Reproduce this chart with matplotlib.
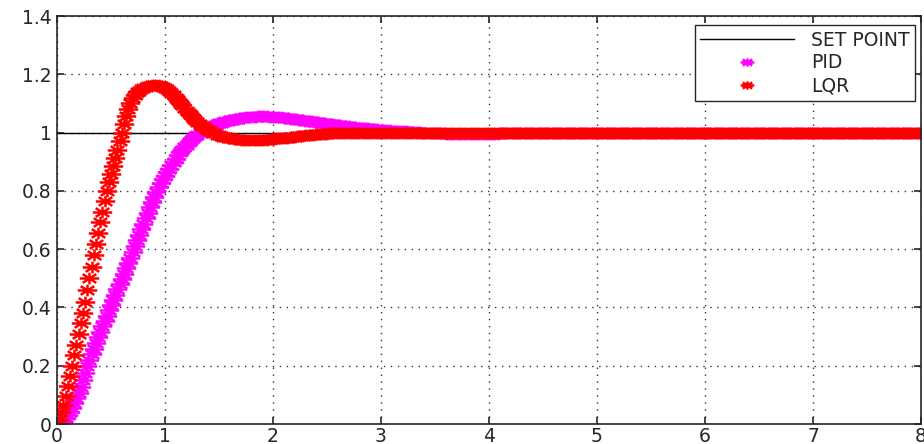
import numpy as np
import matplotlib
matplotlib.use('Agg')
import matplotlib.pyplot as plt
from matplotlib.path import Path

# time step of the sampled responses (s)
dt = 0.02

lqr = [0.000, 0.015, 0.040, 0.065, 0.095, 0.130, 0.165, 0.200, 0.236, 0.272,
       0.308, 0.345, 0.382, 0.420, 0.460, 0.500, 0.540, 0.580, 0.618, 0.655,
       0.692, 0.728, 0.764, 0.800, 0.830, 0.858, 0.885, 0.912, 0.940, 0.970,
       1.000, 1.030, 1.058, 1.082, 1.103, 1.120, 1.130, 1.138, 1.144, 1.149,
       1.153, 1.156, 1.159, 1.161, 1.162, 1.163, 1.163, 1.162, 1.160, 1.157,
       1.153, 1.148, 1.142, 1.135, 1.128, 1.120, 1.111, 1.102, 1.093, 1.084,
       1.075, 1.067, 1.059, 1.051, 1.043, 1.035, 1.029, 1.023, 1.018, 1.013,
       1.008, 1.004, 1.000, 0.997, 0.993, 0.990, 0.988, 0.986, 0.984, 0.982,
       0.981, 0.980, 0.979, 0.978, 0.977, 0.976, 0.975, 0.975, 0.974, 0.974,
       0.974, 0.974, 0.974, 0.975, 0.975, 0.975, 0.976, 0.976, 0.977, 0.977,
       0.978, 0.979, 0.980, 0.980, 0.981, 0.982, 0.983, 0.983, 0.984, 0.985,
       0.986, 0.987, 0.987, 0.988, 0.989, 0.990, 0.990, 0.991, 0.992, 0.993,
       0.994, 0.994, 0.995, 0.995, 0.996, 0.996, 0.997, 0.997, 0.998, 0.998,
       0.999, 0.999, 0.999, 0.999, 1.000]

# PID response, same sampling
pid = [0.000, 0.002, 0.006, 0.012, 0.020, 0.030, 0.042, 0.056, 0.071, 0.088,
       0.107, 0.128, 0.150, 0.174, 0.198, 0.220, 0.240, 0.259, 0.278, 0.297,
       0.316, 0.335, 0.354, 0.372, 0.390, 0.408, 0.426, 0.444, 0.462, 0.480,
       0.498, 0.516, 0.534, 0.552, 0.571, 0.590, 0.610, 0.630, 0.649, 0.668,
       0.687, 0.706, 0.725, 0.743, 0.762, 0.780, 0.797, 0.812, 0.826, 0.839,
       0.852, 0.864, 0.876, 0.888, 0.900, 0.911, 0.922, 0.932, 0.941, 0.950,
       0.958, 0.966, 0.973, 0.980, 0.987, 0.993, 0.998, 1.003, 1.008, 1.012,
       1.016, 1.020, 1.023, 1.026, 1.029, 1.032, 1.034, 1.036, 1.038, 1.040,
       1.042, 1.044, 1.045, 1.047, 1.048, 1.050, 1.051, 1.052, 1.053, 1.054,
       1.054, 1.055, 1.055, 1.056, 1.056, 1.056, 1.056, 1.056, 1.055, 1.055,
       1.054, 1.054, 1.053, 1.052, 1.052, 1.051, 1.050, 1.049, 1.048, 1.047,
       1.046, 1.045, 1.044, 1.043, 1.042, 1.041, 1.040, 1.039, 1.038, 1.037,
       1.036, 1.035, 1.034, 1.033, 1.032, 1.031, 1.030, 1.029, 1.028, 1.027,
       1.026, 1.025, 1.024, 1.023, 1.022, 1.021, 1.020, 1.019, 1.018, 1.017,
       1.016, 1.016, 1.015, 1.014, 1.014, 1.013, 1.012, 1.012, 1.011, 1.010,
       1.010, 1.009, 1.009, 1.008, 1.008, 1.007, 1.007, 1.006, 1.006, 1.005,
       1.005, 1.004, 1.004, 1.003, 1.003, 1.002, 1.002, 1.001, 1.001, 1.000,
       1.000, 0.999, 0.999, 0.999, 0.998, 0.998, 0.998, 0.997, 0.997, 0.997,
       0.996, 0.996, 0.996, 0.996, 0.995, 0.995, 0.995, 0.995, 0.995, 0.995,
       0.995, 0.995, 0.995, 0.995, 0.995, 0.995, 0.995, 0.995, 0.995, 0.995,
       0.996, 0.996, 0.996, 0.996, 0.996, 0.997, 0.997, 0.997, 0.997, 0.997,
       0.998, 0.998, 0.998, 0.998, 0.998, 0.999, 0.999, 0.999, 0.999, 0.999,
       1.000]

t_end = 8.0
n_total = int(round(t_end / dt)) + 1
# both responses stay at 1 until the end of the run
lqr = lqr + [1.0] * (n_total - len(lqr))
pid = pid + [1.0] * (n_total - len(pid))
t = np.arange(n_total) * dt

setpoint_t = [0, 8]
setpoint_v = [1, 1]

x_ticks = [0, 1, 2, 3, 4, 5, 6, 7, 8]
y_ticks = [0, 0.2, 0.4, 0.6, 0.8, 1.0, 1.2, 1.4]
y_labels = ['0', '0.2', '0.4', '0.6', '0.8', '1', '1.2', '1.4']

plt.rcParams['font.family'] = ['DejaVu Sans']

# matlab style asterisk, stretched sideways like in the picture
star = Path([(-1, 0), (1, 0), (0, -0.6), (0, 0.6),
             (-0.7, -0.45), (0.7, 0.45), (-0.7, 0.45), (0.7, -0.45)],
            [Path.MOVETO, Path.LINETO] * 4)

fig = plt.figure(figsize=(9.24, 4.44), dpi=100)
ax = fig.add_axes([57 / 924, 20 / 444, 864 / 924, 408 / 444])

ax.plot(setpoint_t, setpoint_v, color='black', linewidth=1.0, label='SET POINT')
ax.plot(t, pid, linestyle='none', marker=star, markersize=14, markeredgewidth=1.8,
        color='#ff00ff', label='PID')
ax.plot(t, lqr, linestyle='none', marker=star, markersize=14, markeredgewidth=1.8,
        color='#ff0000', label='LQR')

ax.set_xlim(0, 8)
ax.set_ylim(0, 1.4)
ax.set_xticks(x_ticks)
ax.set_xticklabels([str(x) for x in x_ticks])
ax.set_yticks(y_ticks)
ax.set_yticklabels(y_labels)

ax.grid(True, color='#333333', linestyle=(0, (1, 4)), linewidth=1.0)
ax.tick_params(direction='in', length=5, width=1.2, top=True, right=True,
               labelsize=13.5, colors='#262626')
ax.tick_params(axis='x', pad=2)
ax.tick_params(axis='y', pad=4)
for s in ax.spines.values():
    s.set_linewidth(1.2)
    s.set_color('#262626')

leg = ax.legend(loc='upper right', bbox_to_anchor=(915 / 924, 1 - 25 / 444),
                bbox_transform=fig.transFigure, fontsize=13.5, frameon=True,
                fancybox=False, edgecolor='#262626', framealpha=1,
                handlelength=5.0, handletextpad=0.9, labelspacing=0.2,
                borderpad=0.3, borderaxespad=0, markerscale=0.7)
leg.get_frame().set_linewidth(1.0)
for txt in leg.get_texts():
    txt.set_color('#262626')

fig.savefig('out.png', dpi=100)
